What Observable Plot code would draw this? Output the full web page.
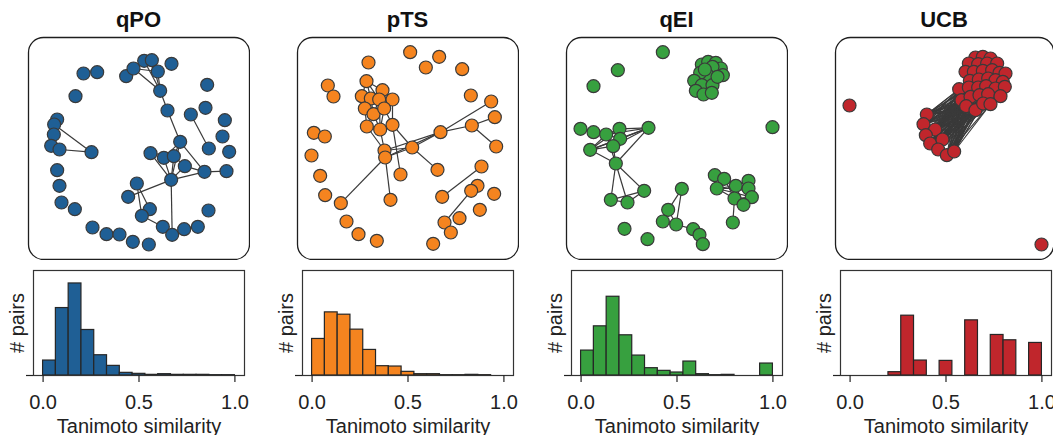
<!DOCTYPE html>
<html><head><meta charset="utf-8">
<script src="https://cdn.jsdelivr.net/npm/d3@7"></script>
<script src="https://cdn.jsdelivr.net/npm/@observablehq/plot@0.6"></script>
<style>
body{margin:0;background:#fff;}
#root{position:relative;width:1053px;height:435px;overflow:hidden;font-family:"Liberation Sans",Arial,sans-serif;color:#222;}
.title{position:absolute;font-weight:bold;font-size:22px;line-height:22px;text-align:center;width:120px;color:#111;}
.abs{position:absolute;}
</style></head><body><div id="root"></div>
<script>
// ---- data ----
const methods = ["qPO", "pTS", "qEI", "UCB"];
const colors = ["#1f5f95", "#f5841f", "#37a03f", "#c0262c"];
const tickValues = [0, 0.5, 1];
const xLabel = "Tanimoto similarity";
const yLabel = "# pairs";

// histogram bar heights (15 bins on [0,1], relative units)
const qpoHist = [45, 203, 277, 137, 61, 29, 8, 5, 2, 4, 2, 2, 2, 1, 1];
const ptsHist = [110, 190, 183, 138, 77, 28, 27, 11, 4, 4, 1, 1, 2, 1, 0];
const qeiHist = [75, 148, 237, 121, 60, 22, 14, 9, 42, 4, 1, 2, 0, 0, 36];
const ucbHist = [0, 0, 0, 10, 180, 45, 0, 44, 0, 166, 0, 122, 106, 0, 98];

// network layouts (layout units)
const qpoNodes = [[190,130],[231,126],[166,198],[318,138],[340,115],[372,92],[395,90],[413,124],[454,101],[420,182],
  [442,241],[561,164],[556,233],[512,253],[614,270],[607,319],[566,355],[627,365],[480,335],[111,268],
  [102,283],[101,313],[93,347],[118,358],[214,366],[111,420],[118,467],[124,517],[164,537],[217,592],
  [259,612],[298,613],[338,635],[386,643],[391,369],[431,383],[461,378],[494,408],[453,449],[553,425],
  [619,423],[350,460],[324,500],[389,537],[365,557],[428,590],[456,614],[492,597],[533,590],[565,541]];
const qpoEdges = [[4,9],[5,9],[6,9],[7,9],[4,7],[5,7],[5,6],[9,10],[10,18],[13,16],[20,24],[23,24],[19,20],
  [18,36],[18,38],[18,39],[18,35],[34,38],[35,38],[36,38],[37,38],[38,39],[39,40],[37,39],[35,36],[34,36],
  [38,46],[38,42],[41,43],[41,44],[43,44],[44,45],[45,46],[36,37]];

const ptsNodes = [[358,66],[445,80],[405,112],[514,117],[233,97],[111,166],[128,199],[227,153],[275,180],[213,198],
  [240,205],[265,208],[305,208],[222,235],[248,252],[280,235],[228,289],[268,298],[305,284],[540,196],
  [601,214],[612,261],[543,286],[616,349],[449,306],[364,352],[281,361],[283,382],[69,308],[102,319],
  [62,376],[88,437],[103,495],[150,519],[167,574],[203,612],[258,632],[329,433],[440,419],[299,509],
  [572,409],[454,500],[560,467],[541,482],[610,491],[567,539],[506,564],[461,577],[480,607],[427,641]];
const ptsEdges = [[7,8],[7,9],[7,10],[7,11],[8,11],[8,12],[9,10],[9,13],[10,11],[10,14],[11,12],[11,15],[12,15],
  [13,14],[13,16],[14,15],[14,17],[15,18],[15,17],[16,17],[17,18],[10,15],[11,14],[13,15],[9,11],[8,10],[12,18],[11,17],
  [24,20],[22,21],[22,23],[24,22],[24,26],[24,27],[24,25],[25,26],[25,27],[25,38],[18,25],[16,26],[17,26],
  [18,37],[27,33],[26,39],[40,41],[43,47],[42,43]];

const qeiNodes = [[306,66],[171,120],[98,168],[635,291],
  [423,103],[442,95],[465,98],[480,115],[486,135],[455,110],[440,135],[418,128],[400,152],[423,165],
  [455,165],[405,182],[428,193],[453,188],[470,140],[432,118],
  [59,296],[98,306],[136,313],[176,296],[178,326],[157,348],[88,359],[263,293],[165,400],[150,509],
  [200,517],[250,482],[363,476],[322,539],[306,574],[346,583],[397,597],[416,614],[426,642],[191,596],
  [260,627],[462,435],[490,446],[468,475],[525,467],[563,452],[563,475],[521,505],[573,501],[548,524],[516,577]];
const qeiEdges = [[4,5],[5,6],[6,7],[7,8],[9,10],[10,11],[11,12],[12,13],[13,14],[15,16],[16,17],[14,18],[9,19],[10,13],
  [27,23],[27,22],[27,24],[27,25],[27,26],[27,28],[22,23],[22,24],[23,24],[22,26],[24,26],[25,26],[23,26],[22,25],
  [26,28],[25,28],[22,28],[21,22],[28,29],[28,30],[28,31],[29,31],[30,31],[29,30],
  [32,33],[32,35],[33,35],[34,35],[35,36],[36,37],[37,38],
  [41,42],[41,43],[42,44],[42,47],[43,44],[43,47],[44,45],[44,46],[44,47],[44,48],[45,46],[46,48],[47,48],
  [47,49],[43,46],[42,46],[43,48],[47,50],[45,48],[44,49]];

const ucbNodes = [[62,226],[638,643],
  [440,82],[462,80],[485,85],[420,100],[448,102],[475,100],[505,100],[410,125],[435,125],[462,122],
  [490,120],[512,128],[530,130],[423,152],[450,148],[478,145],[500,150],[522,155],[391,177],[420,172],
  [448,172],[472,168],[500,175],[528,170],[398,210],[425,200],[452,195],[478,192],[515,198],[412,228],
  [440,240],[463,220],[485,222],
  [294,253],[284,282],[319,298],[291,315],[304,340],[341,328],[328,358],[354,375],[376,364]];
// dense band: every node of the lower group links to every node of the upper group
const ucbLowerGroup = [35,36,37,38,39,40,41,42,43];
const ucbUpperGroup = [15,16,20,21,22,23,26,27,28,29,31,32,33,34];
const ucbInnerEdges = [[2,3],[3,4],[5,6],[6,7],[7,8],[9,10],[10,11],[11,12],[12,13],[15,16],[16,17],[17,18],
  [20,21],[21,22],[22,23],[26,27],[27,28],[28,29],[31,32],[32,33],[35,36],[36,37],[38,39],[40,41],[41,42],[42,43]];

// ---- layout ----
const netBoxes = [
  {left: 27, top: 36, xdom: [25, 688]},
  {left: 296, top: 36, xdom: [20, 683]},
  {left: 565, top: 36, xdom: [17, 680]},
  {left: 834, top: 36, xdom: [20, 675]}
];
const histLefts = [0, 269, 538, 807];
const titleCenters = [138.5, 407.5, 676.5, 944];

const ucbEdges = ucbInnerEdges.concat(
  ucbLowerGroup.flatMap(a => ucbUpperGroup.map(b => [a, b])));
const allNodes = [qpoNodes, ptsNodes, qeiNodes, ucbNodes];
const allEdges = [qpoEdges, ptsEdges, qeiEdges, ucbEdges];
const allHist = [qpoHist, ptsHist, qeiHist, ucbHist];

const root = document.getElementById("root");

function network(nodes, edges, color, xdom, dense) {
  const w = (xdom[1] - xdom[0]) / 3;
  const links = edges.map(([a, b]) => ({x1: nodes[a][0], y1: nodes[a][1], x2: nodes[b][0], y2: nodes[b][1]}));
  return Plot.plot({
    width: w + 2, height: 224, margin: 1,
    x: {domain: xdom, axis: null},
    y: {domain: [22, 688], reverse: true, axis: null},
    marks: [
      Plot.frame({rx: 15, ry: 15, stroke: "#1e1e1e", strokeWidth: 1.3}),
      Plot.link(links, {x1: "x1", y1: "y1", x2: "x2", y2: "y2", stroke: "#3a3a3a",
        strokeWidth: dense ? 1.1 : 1.2}),
      Plot.dot(nodes, {x: d => d[0], y: d => d[1], r: 6.5, fill: color, stroke: "#3a3a3a", strokeWidth: 1.2})
    ]
  });
}

function hist(counts, color) {
  const bars = counts.map((c, i) => ({x1: i / 15, x2: (i + 1) / 15, y: c})).filter(d => d.y > 0);
  return Plot.plot({
    width: 33 + 211 + 24, height: 166,
    marginLeft: 33, marginRight: 24, marginTop: 1, marginBottom: 60,
    x: {domain: [-0.05, 1.05]},
    y: {domain: [0, 316]},
    style: {color: "#222", fontFamily: "Liberation Sans, Arial, sans-serif", overflow: "visible"},
    marks: [
      Plot.rectY(bars, {x1: "x1", x2: "x2", y: "y", fill: color, stroke: "#262626", strokeWidth: 1.2}),
      Plot.frame({stroke: "#333", strokeWidth: 1.2}),
      Plot.axisX({ticks: tickValues, tickFormat: d3.format(".1f"), tickSize: 7, tickPadding: 12, fontSize: 20, label: null, strokeWidth: 1.2}),
      Plot.axisY({ticks: [0], tickSize: 7, tickFormat: () => "", label: null, strokeWidth: 1.2}),
      Plot.text([yLabel], {frameAnchor: "left", textAnchor: "middle", dx: -16, rotate: -90, fontSize: 20, fill: "#222"}),
      Plot.text([xLabel], {frameAnchor: "bottom", textAnchor: "middle", dy: 57, fontSize: 20, fill: "#222"})
    ]
  });
}

methods.forEach((m, i) => {
  const t = document.createElement("div");
  t.className = "title";
  t.textContent = m;
  t.style.left = (titleCenters[i] - 60) + "px";
  t.style.top = "9px";
  root.appendChild(t);

  const nb = netBoxes[i];
  const net = network(allNodes[i], allEdges[i], colors[i], nb.xdom, i === 3);
  net.classList.add("abs");
  net.style.left = nb.left + "px";
  net.style.top = nb.top + "px";
  root.appendChild(net);

  const h = hist(allHist[i], colors[i]);
  h.classList.add("abs");
  h.style.left = histLefts[i] + "px";
  h.style.top = "269px";
  root.appendChild(h);
});
</script>
</body></html>
